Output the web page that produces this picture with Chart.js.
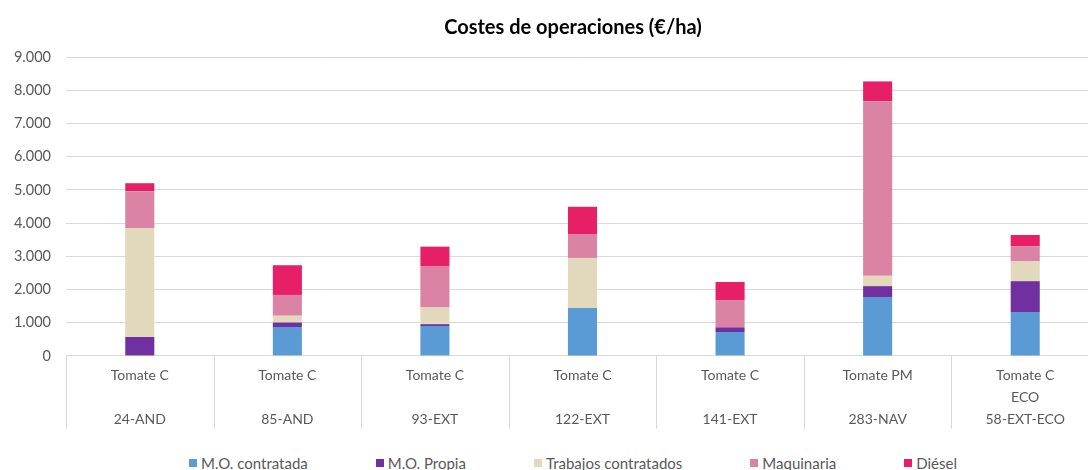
<!DOCTYPE html>
<html>
<head>
<meta charset="utf-8">
<script src="https://cdn.jsdelivr.net/npm/chart.js@4/dist/chart.umd.min.js"></script>
<style>
  html, body { margin: 0; padding: 0; background: #ffffff; overflow: hidden; width: 1088px; height: 470px; }
  #wrap { position: absolute; left: 0; top: 0; width: 1138px; height: 440px; }
  #legend { position: absolute; left: 0; top: 455px; width: 1146px; display: flex; justify-content: center; gap: 68px;
            font-family: Lato, "Liberation Sans", sans-serif; font-size: 15px; color: #595959; line-height: 16px; }
  #legend .item { display: flex; align-items: center; white-space: nowrap; }
  #legend .sw { width: 8px; height: 8px; margin-right: 4px; display: inline-block; }
</style>
</head>
<body>
<div id="wrap"><canvas id="c"></canvas></div>
<div id="legend"></div>
<script>
const categories = ['Tomate C', 'Tomate C', 'Tomate C', 'Tomate C', 'Tomate C', 'Tomate PM', 'Tomate C'];
const subLabels  = ['', '', '', '', '', '', 'ECO'];
const codes      = ['24-AND', '85-AND', '93-EXT', '122-EXT', '141-EXT', '283-NAV', '58-EXT-ECO'];

const seriesNames = ['M.O. contratada', 'M.O. Propia', 'Trabajos contratados', 'Maquinaria', 'Diésel'];
const moContratada = [0, 870, 900, 1440, 720, 1770, 1320];
const moPropia     = [570, 135, 55, 0, 140, 330, 930];
const trabajos     = [3280, 205, 505, 1510, 0, 310, 595];
const maquinaria   = [1110, 625, 1230, 705, 820, 5260, 455];
const diesel       = [240, 895, 600, 835, 545, 595, 340];

const yTicks = [0, 1000, 2000, 3000, 4000, 5000, 6000, 7000, 8000, 9000];
const title = 'Costes de operaciones (€/ha)';

const colors = ['#5B9BD5', '#7030A0', '#E2D8BB', '#DB83A5', '#E61F67'];
const values = [moContratada, moPropia, trabajos, maquinaria, diesel];

const labels = categories.map((c, i) => [c, subLabels[i], codes[i]]);
const fmt = v => String(v).replace(/\B(?=(\d{3})+(?!\d))/g, '.');

const datasets = seriesNames.map((n, i) => ({
  label: n,
  data: values[i],
  backgroundColor: colors[i],
  borderWidth: 0,
  categoryPercentage: 1.0,
  barPercentage: 0.197
}));

const FONT = 'Lato, "Liberation Sans", sans-serif';

// vertical separators between category labels, placed from the x scale
const separators = {
  id: 'separators',
  afterDraw(chart) {
    const xs = chart.scales.x;
    const ctx = chart.ctx;
    const n = xs.ticks.length;
    const step = n > 1 ? xs.getPixelForTick(1) - xs.getPixelForTick(0) : xs.width;
    const y0 = chart.chartArea.bottom;
    ctx.save();
    ctx.strokeStyle = '#D9D9D9';
    ctx.lineWidth = 1;
    for (let i = 0; i <= n; i++) {
      const x = Math.round(xs.getPixelForTick(Math.min(i, n - 1)) + (i < n ? -step / 2 : step / 2)) + 0.5;
      ctx.beginPath();
      ctx.moveTo(x, y0);
      ctx.lineTo(x, y0 + 73);
      ctx.stroke();
    }
    ctx.restore();
  }
};

new Chart(document.getElementById('c'), {
  type: 'bar',
  data: { labels, datasets },
  plugins: [separators],
  options: {
    responsive: true,
    maintainAspectRatio: false,
    animation: false,
    layout: { padding: { left: 8, right: 0, top: 0, bottom: 1 } },
    plugins: {
      legend: { display: false },
      tooltip: { enabled: false },
      title: {
        display: true,
        text: title,
        color: '#000000',
        font: { family: FONT, size: 20, weight: 'bold', lineHeight: 1.2 },
        padding: { top: 16, bottom: 17 }
      }
    },
    scales: {
      x: {
        stacked: true,
        offset: true,
        grid: { display: true, drawOnChartArea: false, drawTicks: false },
        border: { display: true, color: '#D9D9D9' },
        ticks: { color: '#595959', padding: 9, maxRotation: 0, autoSkip: false,
                 font: { family: FONT, size: 14, lineHeight: 1.55 } }
      },
      y: {
        stacked: true,
        min: 0,
        max: 9000,
        afterBuildTicks: axis => { axis.ticks = yTicks.map(v => ({ value: v })); },
        afterFit: axis => { axis.width = 58; },
        grid: { color: '#D9D9D9', drawTicks: false },
        border: { display: false },
        ticks: { color: '#595959', padding: 15, callback: v => fmt(v),
                 font: { family: FONT, size: 14.5 } }
      },
      spacer: {
        type: 'linear',
        position: 'right',
        display: true,
        afterFit: axis => { axis.width = 39; },
        grid: { display: false, drawTicks: false },
        border: { display: false },
        ticks: { display: false }
      }
    }
  }
});

const lg = document.getElementById('legend');
seriesNames.forEach((n, i) => {
  const it = document.createElement('span');
  it.className = 'item';
  const sw = document.createElement('span');
  sw.className = 'sw';
  sw.style.background = colors[i];
  it.appendChild(sw);
  it.appendChild(document.createTextNode(n));
  lg.appendChild(it);
});
</script>
</body>
</html>
